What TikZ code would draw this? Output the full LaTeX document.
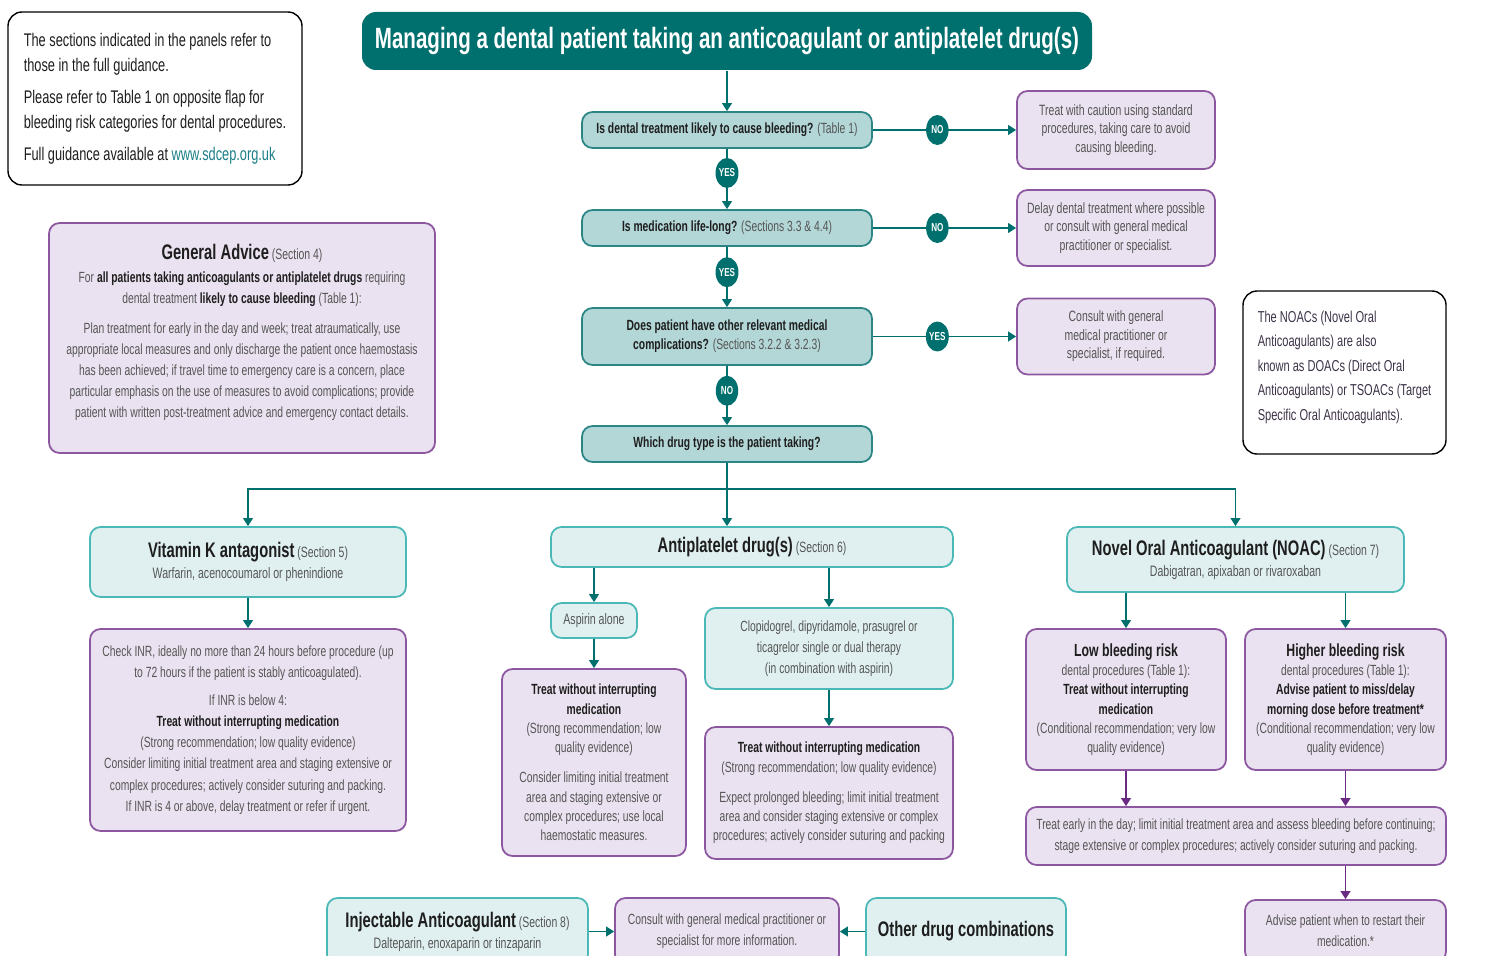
\documentclass[tikz,border=0pt]{standalone}
\usepackage{fontspec}
\setmainfont{Liberation Sans}[FakeStretch=0.7]
\usetikzlibrary{arrows.meta,shapes.geometric}
\definecolor{tealDark}{HTML}{00706E}
\definecolor{qFill}{HTML}{B3D6D7}
\definecolor{qLine}{HTML}{2A8584}
\definecolor{lightFill}{HTML}{E0F0F0}
\definecolor{lightLine}{HTML}{49B8B6}
\definecolor{lavFill}{HTML}{EAE2F0}
\definecolor{lavLine}{HTML}{8C56A0}
\definecolor{purpArrow}{HTML}{6A2A84}
\definecolor{ink}{HTML}{1E1E1E}
\definecolor{greyText}{HTML}{555555}
\definecolor{linkTeal}{HTML}{1C7F88}
\definecolor{noteInk}{HTML}{3E3348}
\newcommand{\titlefont}{\fontsize{16.7}{20}\selectfont\bfseries}
\newcommand{\qfont}{\fontsize{8.4}{10.8}\selectfont}
\newcommand{\smallfont}{\fontsize{8.5}{10.6}\selectfont}
\newcommand{\bodyfont}{\fontsize{8.4}{12}\selectfont}
\newcommand{\tightfont}{\fontsize{8.4}{11}\selectfont}
\newcommand{\subfont}{\fontsize{8.6}{12}\selectfont}
\newcommand{\headfont}{\fontsize{12}{14}\selectfont\bfseries\color{ink}}
\newcommand{\notefont}{\fontsize{10.4}{14.2}\selectfont}
\newcommand{\ynfont}{\fontsize{6.6}{7}\selectfont\bfseries}
\newcommand{\hb}[1]{{\bfseries\color{ink}#1}}
\newcommand{\sect}[1]{{\fontsize{8.5}{10}\selectfont\mdseries\color{greyText}#1}}

\begin{document}
\begin{tikzpicture}[
  x=0.02cm, y=-0.02cm,
  >={Triangle[length=4.5pt,width=5.5pt]},
  sz/.style 2 args={minimum width=#1*0.02cm, minimum height=#2*0.02cm},
  box/.style={rounded corners=6pt, line width=1pt, align=center, inner sep=2pt, text=greyText},
  note/.style={box, draw=black, fill=white, line width=0.8pt, rounded corners=8pt, align=left, font=\notefont},
  titlebox/.style={box, fill=tealDark, text=white, rounded corners=8pt, font=\titlefont},
  qbox/.style={box, draw=qLine, fill=qFill, font=\qfont},
  lbox/.style={box, draw=lightLine, fill=lightFill, font=\subfont},
  pbox/.style={box, draw=lavLine, fill=lavFill, font=\bodyfont},
  yn/.style={ellipse, fill=tealDark, text=white, inner sep=0pt,
    minimum width=0.45cm, minimum height=0.6cm, font=\ynfont},
  flow/.style={->, draw=tealDark, line width=0.9pt},
  pflow/.style={->, draw=purpArrow, line width=0.9pt}
]
  \useasboundingbox (0,0) rectangle (1487,956);
  \clip (0,0) rectangle (1487,956);

  % notes and title
  \node[note, sz={294}{173}, text=ink] (info) at (155,98.5) {The sections indicated in the panels refer to\\
    those in the full guidance.\\[4pt]
    Please refer to Table 1 on opposite flap for\\
    bleeding risk categories for dental procedures.\\[4pt]
    Full guidance available at {\color{linkTeal}www.sdcep.org.uk}};
  \node[titlebox, sz={730}{58}] (title) at (727,41) {Managing a dental patient taking an anticoagulant or antiplatelet drug(s)};
  \node[note, sz={203}{163}, text=noteInk, font=\fontsize{9}{14}\selectfont] (noacs) at (1344.5,372.5) {The NOACs (Novel Oral\\
    Anticoagulants) are also\\
    known as DOACs (Direct Oral\\
    Anticoagulants) or TSOACs (Target\\
    Specific Oral Anticoagulants).\\[-6pt]};

  % questions
  \node[qbox, sz={290}{36}] (q1) at (727,130) {\hb{Is dental treatment likely to cause bleeding?} (Table 1)};
  \node[qbox, sz={290}{36}] (q2) at (727,228) {\hb{Is medication life-long?} (Sections 3.3 \& 4.4)};
  \node[qbox, sz={290}{57}] (q3) at (727,336.5) {\hb{Does patient have other relevant medical}\\
    \hb{complications?} (Sections 3.2.2 \& 3.2.3)};
  \node[qbox, sz={290}{36}] (q4) at (727,444) {\hb{Which drug type is the patient taking?}};

  % side answers
  \node[pbox, sz={198}{78}, font=\smallfont] (r1) at (1116,130) {Treat with caution using standard\\
    procedures, taking care to avoid\\ causing bleeding.};
  \node[pbox, sz={198}{76}, font=\smallfont] (r2) at (1116,228) {Delay dental treatment where possible\\
    or consult with general medical\\ practitioner or specialist.};
  \node[pbox, sz={198}{76}, font=\smallfont] (r3) at (1116,336.5) {Consult with general\\
    medical practitioner or\\ specialist, if required.};

  \node[pbox, sz={386}{230}] (gen) at (242,338) {{\headfont General Advice} \sect{(Section 4)}\\[1pt]
    For \hb{all patients taking anticoagulants or antiplatelet drugs} requiring\\
    dental treatment \hb{likely to cause bleeding} (Table 1):\\[5pt]
    Plan treatment for early in the day and week; treat atraumatically, use\\
    appropriate local measures and only discharge the patient once haemostasis\\
    has been achieved; if travel time to emergency care is a concern, place\\
    particular emphasis on the use of measures to avoid complications; provide\\
    patient with written post-treatment advice and emergency contact details.\\[-4pt]};

  % vitamin K antagonist
  \node[lbox, sz={316}{70}] (vka) at (248,562) {{\headfont Vitamin K antagonist} \sect{(Section 5)}\\
    Warfarin, acenocoumarol or phenindione};
  \node[pbox, sz={316}{202}] (vkat) at (248,730) {Check INR, ideally no more than 24 hours before procedure (up\\
    to 72 hours if the patient is stably anticoagulated).\\[4pt]
    If INR is below 4:\\
    \hb{Treat without interrupting medication}\\
    (Strong recommendation; low quality evidence)\\
    Consider limiting initial treatment area and staging extensive or\\
    complex procedures; actively consider suturing and packing.\\
    If INR is 4 or above, delay treatment or refer if urgent.};

  % antiplatelet
  \node[lbox, sz={402}{40}] (anti) at (752,547) {{\headfont Antiplatelet drug(s)} \sect{(Section 6)}};
  \node[lbox, sz={86}{35}] (asp) at (594,620.5) {Aspirin alone};
  \node[pbox, sz={184}{187}, font=\tightfont] (aspt) at (594,762.5) {\hb{Treat without interrupting}\\
    \hb{medication}\\
    (Strong recommendation; low\\ quality evidence)\\[6pt]
    Consider limiting initial treatment\\
    area and staging extensive or\\
    complex procedures; use local\\
    haemostatic measures.};
  \node[lbox, sz={248}{81}, font=\bodyfont] (clop) at (829,648.5) {Clopidogrel, dipyridamole, prasugrel or\\
    ticagrelor single or dual therapy\\
    (in combination with aspirin)};
  \node[pbox, sz={248}{132}, font=\tightfont] (clopt) at (829,793) {\hb{Treat without interrupting medication}\\
    (Strong recommendation; low quality evidence)\\[6pt]
    Expect prolonged bleeding; limit initial treatment\\
    area and consider staging extensive or complex\\
    procedures; actively consider suturing and packing};

  % NOAC
  \node[lbox, sz={337}{65}] (noac) at (1235.5,559.5) {{\headfont Novel Oral Anticoagulant (NOAC)} \sect{(Section 7)}\\
    Dabigatran, apixaban or rivaroxaban};
  \node[pbox, sz={200}{141}, font=\tightfont] (low) at (1126,699.5) {{\fontsize{10}{12}\selectfont\hb{Low bleeding risk}}\\
    dental procedures (Table 1):\\
    \hb{Treat without interrupting}\\
    \hb{medication}\\
    (Conditional recommendation; very low\\ quality evidence)};
  \node[pbox, sz={201}{141}, font=\tightfont] (high) at (1345.5,699.5) {{\fontsize{10}{12}\selectfont\hb{Higher bleeding risk}}\\
    dental procedures (Table 1):\\
    \hb{Advise patient to miss/delay}\\
    \hb{morning dose before treatment*}\\
    (Conditional recommendation; very low\\ quality evidence)};
  \node[pbox, sz={420}{58}] (early) at (1236,836) {Treat early in the day; limit initial treatment area and assess bleeding before continuing;\\
    stage extensive or complex procedures; actively consider suturing and packing.};
  \node[pbox, sz={201}{62}] (restart) at (1345.5,931) {Advise patient when to restart their\\ medication.*};

  % bottom row
  \node[lbox, sz={261}{67}] (inj) at (457.5,931.5) {{\headfont Injectable Anticoagulant} \sect{(Section 8)}\\
    Dalteparin, enoxaparin or tinzaparin};
  \node[pbox, sz={224}{67}] (cons) at (727,931.5) {Consult with general medical practitioner or\\
    specialist for more information.};
  \node[lbox, sz={200}{67}] (other) at (966,931.5) {{\headfont Other drug combinations}};

  % decision flow
  \draw[flow] (title) -- (q1);
  \draw[flow] (q1) -- node[yn, pos=0.4] (y1) {YES} (q2);
  \draw[flow] (q2) -- node[yn, pos=0.42] (y2) {YES} (q3);
  \draw[flow] (q3) -- node[yn, pos=0.42] (n3) {NO} (q4);
  \draw[flow] (q1) -- node[yn, pos=0.45] (n1) {NO} (r1);
  \draw[flow] (q2) -- node[yn, pos=0.45] (n2) {NO} (r2);
  \draw[flow] (q3) -- node[yn, pos=0.45] (y3) {YES} (r3);

  % drug type bus
  \coordinate (bus) at (727,489);
  \draw[flow, -] (q4) -- (bus);
  \draw[flow] (bus) -| (vka.north);
  \draw[flow] (bus) -- (bus |- anti.north);
  \draw[flow] (bus) -| (noac.north);

  \draw[flow] (vka) -- (vkat);
  \draw[flow] (asp.north |- anti.south) -- (asp);
  \draw[flow] (asp) -- (aspt);
  \draw[flow] (clop.north |- anti.south) -- (clop);
  \draw[flow] (clop) -- (clopt);
  \draw[flow] (low.north |- noac.south) -- (low);
  \draw[flow] (high.north |- noac.south) -- (high);
  \draw[pflow] (low) -- (low |- early.north);
  \draw[pflow] (high) -- (high |- early.north);
  \draw[pflow] (restart |- early.south) -- (restart);
  \draw[flow] (inj) -- (cons);
  \draw[flow] (other) -- (cons);
\end{tikzpicture}
\end{document}
